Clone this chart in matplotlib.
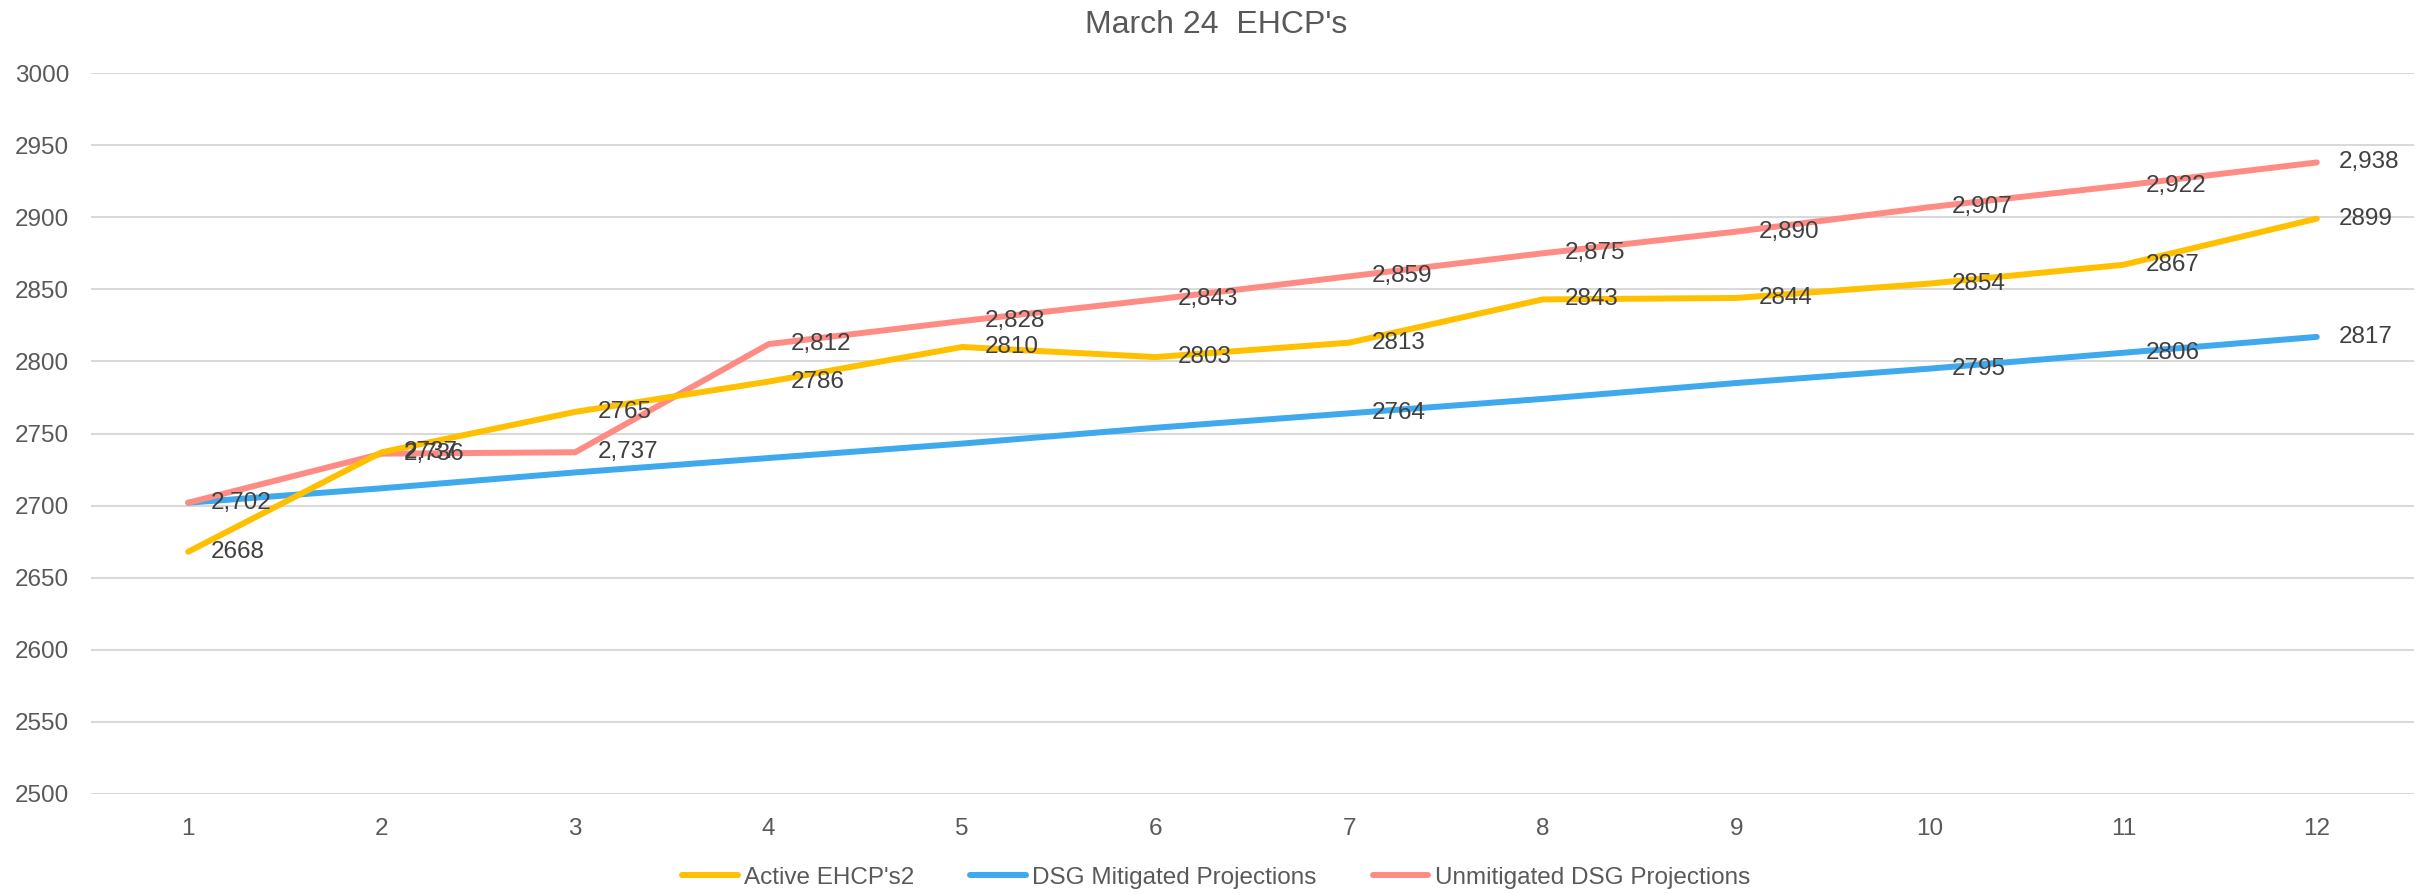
import matplotlib
matplotlib.use("Agg")
import matplotlib.pyplot as plt

months = [1, 2, 3, 4, 5, 6, 7, 8, 9, 10, 11, 12]
active = [2668, 2737, 2765, 2786, 2810, 2803, 2813, 2843, 2844, 2854, 2867, 2899]
mitigated = [2702, 2712, 2723, 2733, 2743, 2754, 2764, 2774, 2785, 2795, 2806, 2817]
unmitigated = [2702, 2736, 2737, 2812, 2828, 2843, 2859, 2875, 2890, 2907, 2922, 2938]
mitigated_labelled = [7, 10, 11, 12]

plt.rcParams['font.family'] = ['Liberation Sans', 'DejaVu Sans']

fig = plt.figure(figsize=(24.32, 8.94), dpi=100)
ax = fig.add_axes([0.0376, 0.1119, 0.9548, 0.8064])

c_active = '#FFC000'
c_mit = '#3FA9EE'
c_unmit = '#FF8C84'
lw = 4.3

ax.plot(months, mitigated, color=c_mit, lw=lw, solid_capstyle='round', label='DSG Mitigated Projections', zorder=3)
ax.plot(months, unmitigated, color=c_unmit, lw=lw, solid_capstyle='round', label='Unmitigated DSG Projections', zorder=4)
ax.plot(months, active, color=c_active, lw=lw, solid_capstyle='round', label="Active EHCP's2", zorder=5)

lab_kw = dict(textcoords='offset points', xytext=(16, 0), ha='left', va='center',
              fontsize=17.5, color='#404040', zorder=6)
for x, v in zip(months, active):
    ax.annotate(f"{v}", (x, v), **lab_kw)
for x, v in zip(months, unmitigated):
    ax.annotate(f"{v:,}", (x, v), **lab_kw)
for x, v in zip(months, mitigated):
    if x in mitigated_labelled:
        ax.annotate(f"{v}", (x, v), **lab_kw)

ax.set_xlim(0.5, 12.5)
ax.set_ylim(2500, 3000)
ax.set_yticks(range(2500, 3001, 50))
ax.set_xticks(months)
ax.grid(axis='y', color='#D9D9D9', lw=1.5)
ax.set_axisbelow(True)
for s in ax.spines.values():
    s.set_visible(False)
ax.tick_params(axis='both', length=0, labelsize=17.5, labelcolor='#595959')
ax.tick_params(axis='y', pad=16)
ax.tick_params(axis='x', pad=17)

fig.suptitle("March 24  EHCP's", y=0.972, fontsize=23, color='#595959', va='center')

handles, labels = ax.get_legend_handles_labels()
order = [2, 0, 1]
leg = fig.legend([handles[i] for i in order], [labels[i] for i in order],
                 loc='center', bbox_to_anchor=(0.5, 0.018), ncol=3, frameon=False,
                 fontsize=17.5, handlelength=2.3, handletextpad=0.25, columnspacing=2.3,
                 labelcolor='#595959')

fig.savefig("out.png", dpi=100)
